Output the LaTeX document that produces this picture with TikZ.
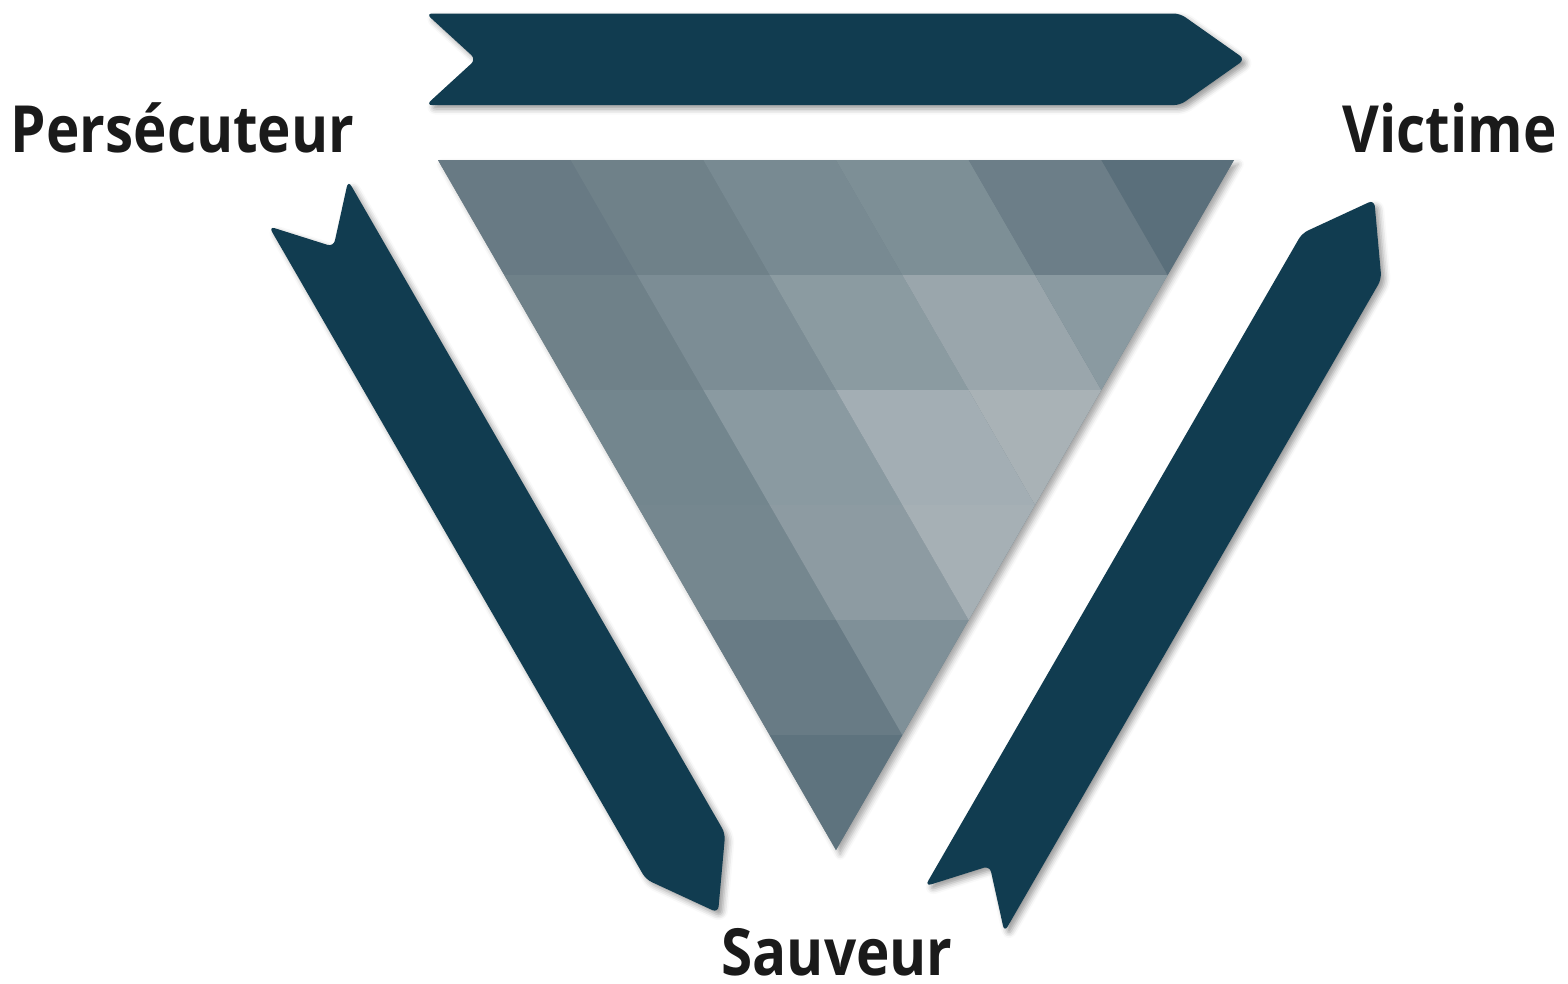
\documentclass[tikz,border=0pt]{standalone}
\usepackage{fontspec}
\setmainfont{Open Sans}
\newfontfamily\labelfont[FakeStretch=0.87]{Open Sans}
\usetikzlibrary{shadows.blur}
\definecolor{arrowcol}{HTML}{113C50}
\definecolor{labelcol}{HTML}{1A1A1A}
\definecolor{c-0-0}{HTML}{687A84}
\definecolor{c-1-0}{HTML}{6F8189}
\definecolor{c-2-0}{HTML}{788A92}
\definecolor{c-3-0}{HTML}{7D8F96}
\definecolor{c-4-0}{HTML}{6C7E88}
\definecolor{c-5-0}{HTML}{5A6F7B}
\definecolor{c-0-1}{HTML}{6F8189}
\definecolor{c-1-1}{HTML}{7C8D95}
\definecolor{c-2-1}{HTML}{8B9BA1}
\definecolor{c-3-1}{HTML}{9AA6AC}
\definecolor{c-4-1}{HTML}{8A9AA1}
\definecolor{c-0-2}{HTML}{73868E}
\definecolor{c-1-2}{HTML}{8A9AA1}
\definecolor{c-2-2}{HTML}{A3AEB4}
\definecolor{c-3-2}{HTML}{A9B2B6}
\definecolor{c-0-3}{HTML}{75878F}
\definecolor{c-1-3}{HTML}{8D9BA2}
\definecolor{c-2-3}{HTML}{A6B0B5}
\definecolor{c-0-4}{HTML}{687B85}
\definecolor{c-1-4}{HTML}{7F9098}
\definecolor{c-0-5}{HTML}{5E737E}
\begin{document}
\begin{tikzpicture}[x=0.01cm,y=-0.01cm,
  chevron/.style={fill=arrowcol, rounded corners=1.8pt,
    blur shadow={shadow xshift=1.1pt, shadow yshift=-1.1pt, shadow blur radius=1.6pt, shadow opacity=40}},
  tribase/.style={fill=c-0-0,
    blur shadow={shadow xshift=1.2pt, shadow yshift=-1.2pt, shadow blur radius=1.6pt, shadow opacity=35}},
  label/.style={font=\labelfont\fontsize{18.5}{22}\selectfont\bfseries, text=labelcol, inner sep=0pt, anchor=base}]
\useasboundingbox (0,0) rectangle (1568,984);

% corner points of the chevron, for each of the three arrows
\foreach \nm/\cx/\cy/\rot in {T/835.5/59.3/0, L/513.3/558.1/-60, R/1169.5/554.5/60}{
  \begin{scope}[shift={(\cx,\cy)}, rotate=\rot]
    \coordinate (\nm-tl) at (-409.5,-45.8);
    \coordinate (\nm-tr) at (344.5,-45.8);
    \coordinate (\nm-tip) at (409.5,0);
    \coordinate (\nm-br) at (344.5,45.8);
    \coordinate (\nm-bl) at (-409.5,45.8);
    \coordinate (\nm-notch) at (-359.5,0);
  \end{scope}
}
\foreach \nm in {T,L,R}{
  \path[chevron] (\nm-tl) -- (\nm-tr) -- (\nm-tip) -- (\nm-br) -- (\nm-bl) -- (\nm-notch) -- cycle;
}

% lattice points of the inverted triangle
\foreach \r in {0,...,6}{
  \pgfmathtruncatemacro{\kmax}{6-\r}
  \foreach \k in {0,...,\kmax}{
    \coordinate (D-\k-\r) at ({438+132.667*\k+66.333*\r},{160+115*\r});
  }
}
\path[tribase] (D-0-0) -- (D-6-0) -- (D-0-6) -- cycle;

% parallelogram cells
\foreach \r in {0,...,4}{
  \pgfmathtruncatemacro{\kmax}{4-\r}
  \pgfmathtruncatemacro{\rr}{\r+1}
  \foreach \k in {0,...,\kmax}{
    \pgfmathtruncatemacro{\kk}{\k+1}
    \fill[c-\k-\r] (D-\k-\r) -- (D-\kk-\r) -- (D-\kk-\rr) -- (D-\k-\rr) -- cycle;
  }
}
% triangular cells on the right edge
\foreach \r in {0,...,5}{
  \pgfmathtruncatemacro{\k}{5-\r}
  \pgfmathtruncatemacro{\kk}{6-\r}
  \pgfmathtruncatemacro{\rr}{\r+1}
  \fill[c-\k-\r] (D-\k-\r) -- (D-\kk-\r) -- (D-\k-\rr) -- cycle;
}

\node[label] (pers) at (182.5,152) {Persécuteur};
\node[label] (vict) at (1449.5,152) {Victime};
\node[label] (sauv) at (837,975) {Sauveur};
\end{tikzpicture}
\end{document}
